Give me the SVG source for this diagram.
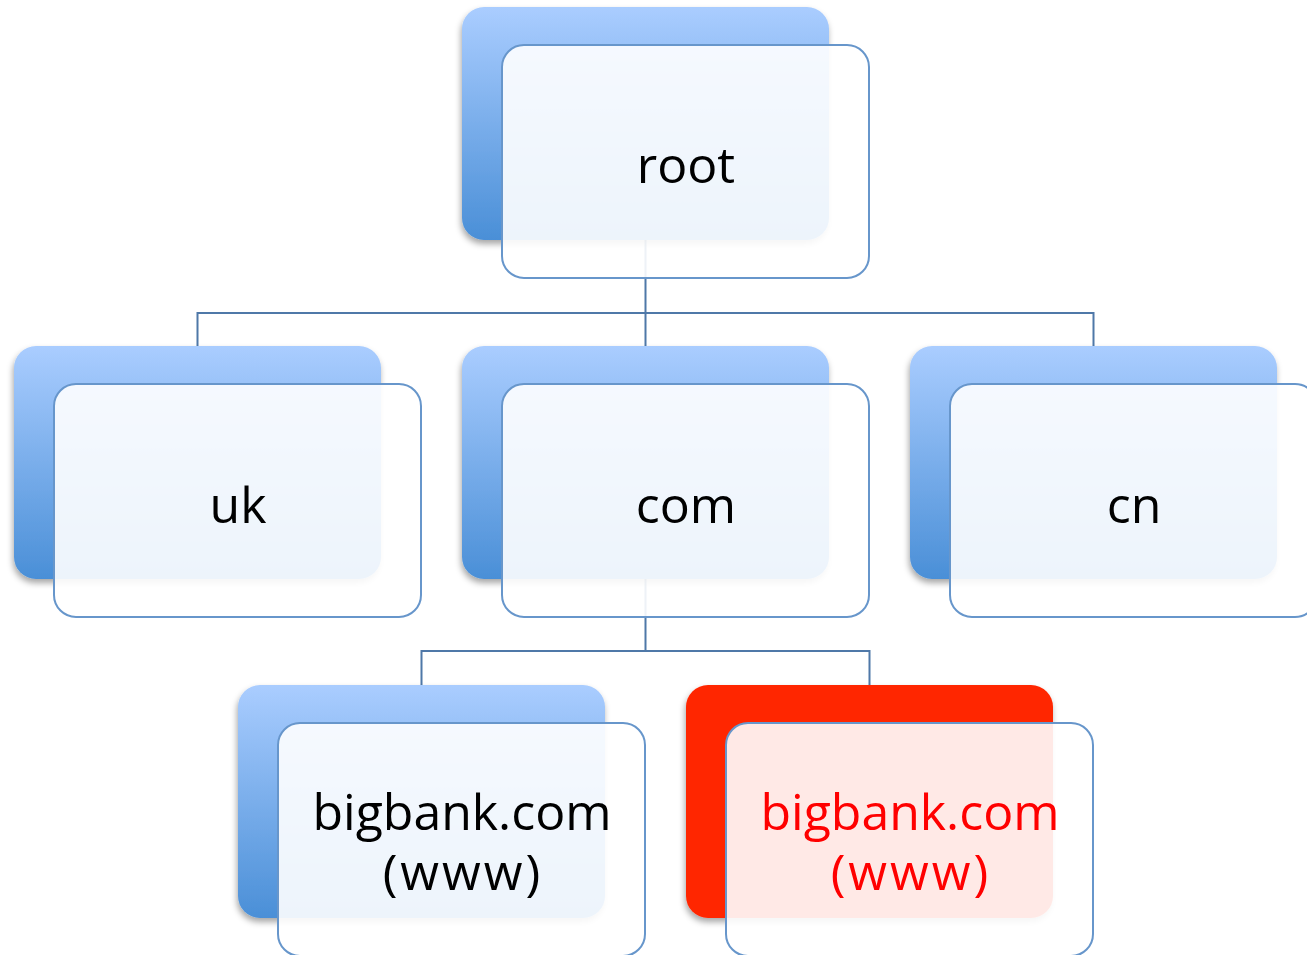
<svg xmlns="http://www.w3.org/2000/svg" width="1307" height="955" viewBox="0 0 1307 955">
<defs>
<linearGradient id="blueGrad" x1="0" y1="0" x2="0" y2="1">
<stop offset="0" stop-color="#aacdff"/>
<stop offset="1" stop-color="#4a8fd7"/>
</linearGradient>
<filter id="shadow" x="-10%" y="-10%" width="125%" height="130%">
<feDropShadow dx="-1" dy="4" stdDeviation="3" flood-color="#000" flood-opacity="0.35"/>
</filter>
<style>
.back{fill:url(#blueGrad);filter:url(#shadow)}
.backRed{fill:#ff2600;filter:url(#shadow)}
.front{fill:#ffffff;fill-opacity:0.9;stroke:#6796cb;stroke-width:2}
.lbl{font-family:"Open Sans","Liberation Sans",sans-serif;font-size:50px;fill:#000;text-anchor:middle}
.lblRed{font-family:"Open Sans","Liberation Sans",sans-serif;font-size:50px;fill:#ff0000;text-anchor:middle}
.wide{letter-spacing:3px}
.conn{fill:none;stroke:#4f78a8;stroke-width:2}
</style>
</defs>
<rect width="1307" height="955" fill="#ffffff"/>
<g id="connectors" class="conn">
<path d="M645.5 240 V313 M197.5 346 V313 H1093.5 V346 M645.5 313 V346"/>
<path d="M645.5 579 V651 M421.5 685 V651 H869.5 V685"/>
</g>
<g id="node-root">
<rect class="back" x="462" y="7" width="367" height="233" rx="22"/>
<rect class="front" x="502" y="45" width="367" height="233" rx="22"/>
<text class="lbl" x="686" y="183">root</text>
</g>
<g id="node-uk">
<rect class="back" x="14" y="346" width="367" height="233" rx="22"/>
<rect class="front" x="54" y="384" width="367" height="233" rx="22"/>
<text class="lbl" x="238" y="523">uk</text>
</g>
<g id="node-com">
<rect class="back" x="462" y="346" width="367" height="233" rx="22"/>
<rect class="front" x="502" y="384" width="367" height="233" rx="22"/>
<text class="lbl" x="686" y="523">com</text>
</g>
<g id="node-cn">
<rect class="back" x="910" y="346" width="367" height="233" rx="22"/>
<rect class="front" x="950" y="384" width="367" height="233" rx="22"/>
<text class="lbl" x="1134" y="523">cn</text>
</g>
<g id="node-bigbank">
<rect class="back" x="238" y="685" width="367" height="233" rx="22"/>
<rect class="front" x="278" y="723" width="367" height="233" rx="22"/>
<text class="lbl"><tspan x="462" y="830">bigbank.com</tspan><tspan class="wide" x="463" y="890">(www)</tspan></text>
</g>
<g id="node-bigbank-fake">
<rect class="backRed" x="686" y="685" width="367" height="233" rx="22"/>
<rect class="front" x="726" y="723" width="367" height="233" rx="22"/>
<text class="lblRed"><tspan x="910" y="830">bigbank.com</tspan><tspan class="wide" x="911" y="890">(www)</tspan></text>
</g>
</svg>
